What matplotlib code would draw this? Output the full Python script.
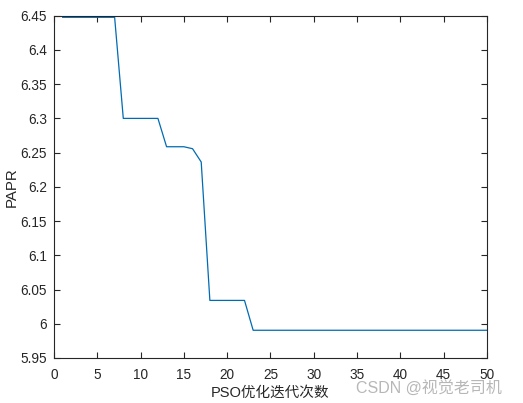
import matplotlib
matplotlib.use('Agg')
import matplotlib.pyplot as plt

# PSO convergence curve: best PAPR per iteration
iterations = list(range(1, 51))
papr = ([6.4477] * 7 + [6.3] * 5 + [6.2586] * 3 + [6.2557, 6.2363]
        + [6.0341] * 5 + [5.9905] * 28)

x_ticks = [0, 5, 10, 15, 20, 25, 30, 35, 40, 45, 50]
y_ticks = [5.95, 6.0, 6.05, 6.1, 6.15, 6.2, 6.25, 6.3, 6.35, 6.4, 6.45]
y_tick_labels = ['5.95', '6', '6.05', '6.1', '6.15', '6.2', '6.25', '6.3', '6.35', '6.4', '6.45']

plt.rcParams['font.family'] = ['Liberation Sans', 'Noto Sans CJK SC', 'DejaVu Sans']
dark = (0.15, 0.15, 0.15)

fig = plt.figure(figsize=(5.23, 4.03), dpi=100)
ax = fig.add_axes([0.1033, 0.1117, 0.931 - 0.1033, 0.961 - 0.1117])

ax.plot(iterations, papr, color=(0, 0.42, 0.7), linewidth=0.9)

ax.set_xlim(0, 50)
ax.set_ylim(5.95, 6.45)
ax.set_xticks(x_ticks)
ax.set_yticks(y_ticks)
ax.set_yticklabels(y_tick_labels)
ax.tick_params(direction='in', top=True, right=True, length=4, width=0.8,
               colors=dark, labelsize=9.8)
ax.tick_params(axis='x', pad=7)
ax.tick_params(axis='y', pad=5)
for s in ax.spines.values():
    s.set_color(dark)
    s.set_linewidth(0.8)

ax.set_xlabel('PSO优化迭代次数', fontsize=10.5, color=dark, labelpad=3)
ax.set_ylabel('PAPR', fontsize=10.8, color=dark, labelpad=1)

# watermark
fig.text(0.82, 0.038, 'CSDN @视觉老司机', fontsize=11.5, color=(0.6, 0.6, 0.6),
         alpha=0.7, ha='center', va='center')

fig.savefig('out.png', dpi=100)
